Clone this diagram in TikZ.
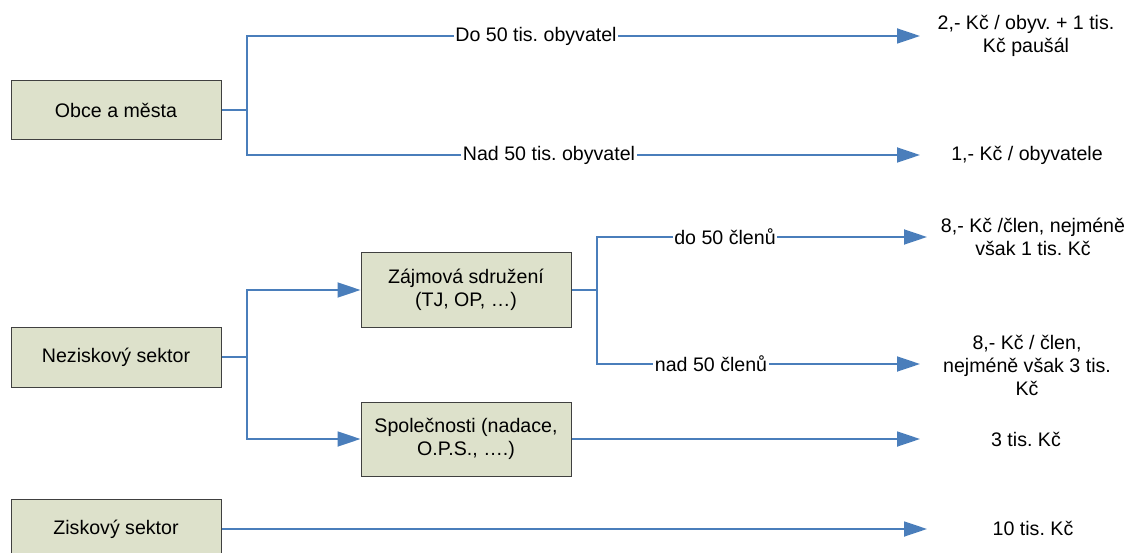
\documentclass[tikz,border=0pt]{standalone}
\usepackage{fontspec}
\setmainfont{Liberation Sans}
\frenchspacing
\usetikzlibrary{arrows.meta}
\definecolor{boxfill}{RGB}{221,225,203}
\definecolor{boxline}{RGB}{64,64,64}
\definecolor{conncol}{RGB}{74,126,187}
\begin{document}
\begin{tikzpicture}[x=1pt,y=-1pt,
  every node/.style={font=\fontsize{19.6}{23}\selectfont\frenchspacing},
  box/.style={draw=boxline,line width=1pt,fill=boxfill,minimum width=210pt,align=center,inner sep=0pt},
  conn/.style={draw=conncol,line width=1.8pt},
  arr/.style={conn,-{Triangle[length=23pt,width=15pt]}},
  lab/.style={fill=white,inner sep=1.5pt},
  res/.style={align=center,inner sep=0pt}]
\useasboundingbox (0,0) rectangle (1129,553);
% boxes
\node[box,minimum height=59pt] (obce) at (116,110) {Obce a města};
\node[box,minimum height=60pt] (nez) at (116,357) {Neziskový sektor};
\node[box,minimum height=74pt] (zaj) at (466,290) {Zájmová sdružení\\(TJ, OP, …)};
\node[box,minimum height=74pt] (spol) at (466,439) {Společnosti (nadace,\\O.P.S., ….)};
\node[box,minimum height=60pt] (zisk) at (116,529) {Ziskový sektor};
% junctions and arrow tips
\coordinate (j1) at (247,110);
\coordinate (j2) at (247,357);
\coordinate (j3) at (597,290);
\coordinate (t1) at (920,36);
\coordinate (t2) at (920,155);
\coordinate (t3) at (927,237);
\coordinate (t4) at (920,364);
\coordinate (t5) at (920,439);
\coordinate (t6) at (927,529);
% connectors
\draw[conn] (obce.east) -- (j1);
\draw[arr] (j1) |- (t1);
\draw[arr] (j1) |- (t2);
\draw[conn] (nez.east) -- (j2);
\draw[arr] (j2) |- (zaj.west);
\draw[arr] (j2) |- (spol.west);
\draw[conn] (zaj.east) -- (j3);
\draw[arr] (j3) |- (t3);
\draw[arr] (j3) |- (t4);
\draw[arr] (spol.east) -- (t5);
\draw[arr] (zisk.east) -- (t6);
% labels on connectors
\node[lab] (l1) at (536,36) {Do 50 tis. obyvatel};
\node[lab] (l2) at (549,155) {Nad 50 tis. obyvatel};
\node[lab] (l3) at (725,237) {do 50 členů};
\node[lab] (l4) at (711,364) {nad 50 členů};
% results
\node[res] (r1) at (1026,36) {2,- Kč / obyv. + 1 tis.\\Kč paušál};
\node[res] (r2) at (1027,155) {1,- Kč / obyvatele};
\node[res] (r3) at (1033,237) {8,- Kč /člen, nejméně\\však 1 tis. Kč};
\node[res] (r4) at (1027,365) {8,- Kč / člen,\\nejméně však 3 tis.\\Kč};
\node[res] (r5) at (1026,439) {3 tis. Kč};
\node[res] (r6) at (1033,528) {10 tis. Kč};
\end{tikzpicture}
\end{document}
